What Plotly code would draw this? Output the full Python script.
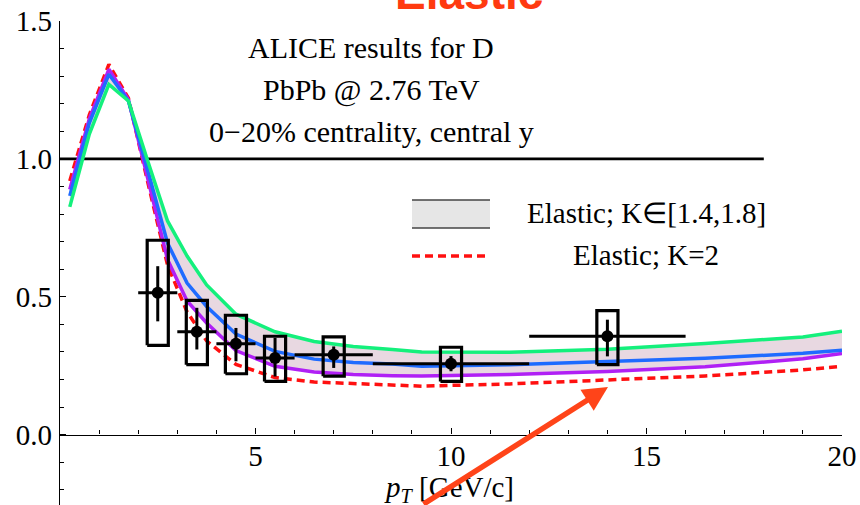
import plotly.graph_objects as go

# ---- model curves: D-meson R_AA vs pT (elastic energy loss, several K factors)
pt_grid = [0.25, 0.75, 1.25, 1.75, 2.25, 2.75, 3.25, 3.75, 4.5, 5.5, 6.5, 7.5,
           8.5, 9.25, 11.5, 14, 16.5, 19, 20]
raa_k14 = [0.826, 1.09, 1.27, 1.21, 0.99, 0.775, 0.648, 0.543, 0.437, 0.373,
           0.338, 0.320, 0.309, 0.300, 0.299, 0.310, 0.331, 0.354, 0.375]
raa_k16 = [0.866, 1.13, 1.307, 1.21, 0.955, 0.695, 0.550, 0.465, 0.365, 0.302,
           0.274, 0.262, 0.256, 0.248, 0.254, 0.265, 0.277, 0.295, 0.306]
raa_k18 = [0.889, 1.145, 1.325, 1.215, 0.925, 0.635, 0.485, 0.405, 0.305, 0.248,
           0.227, 0.218, 0.214, 0.213, 0.218, 0.229, 0.246, 0.275, 0.294]
raa_k20 = [0.920, 1.16, 1.343, 1.22, 0.912, 0.615, 0.445, 0.340, 0.255, 0.207,
           0.191, 0.185, 0.179, 0.176, 0.184, 0.199, 0.213, 0.235, 0.248]

# ---- ALICE D-meson R_AA, PbPb 2.76 TeV, 0-20 %
alice_pt = [2.5, 3.5, 4.5, 5.5, 7.0, 10.0, 14.0]
alice_bin_half = [0.5, 0.5, 0.5, 0.5, 1.0, 2.0, 2.0]
alice_raa = [0.515, 0.373, 0.330, 0.278, 0.290, 0.257, 0.357]
alice_stat_up = [0.096, 0.087, 0.057, 0.073, 0.030, 0.028, 0.060]
alice_stat_dn = [0.104, 0.064, 0.064, 0.067, 0.048, 0.027, 0.073]
alice_syst_hi = [0.705, 0.487, 0.433, 0.357, 0.355, 0.317, 0.450]
alice_syst_lo = [0.324, 0.254, 0.221, 0.193, 0.212, 0.193, 0.254]

ref_x = [0, 18]
ref_y = [1.0, 1.0]

xtick_vals = [5, 10, 15, 20]
ytick_vals = [0.0, 0.5, 1.0, 1.5]
ytick_text = ["0.0", "0.5", "1.0", "1.5"]

SERIF = "Liberation Serif, Times New Roman, serif"
FS = 29
BOX_HALF = 0.27
LW = 3.5

# plot-area geometry (pixels) used to place paper-referenced decorations
W, H = 860, 505
ML, MR, MT, MB = 60, 18, 21, 0
PW, PH = W - ML - MR, H - MT - MB


def px(xp):
    return (xp - ML) / PW


def py(yp):
    return (H - MB - yp) / PH


fig = go.Figure()

# band between the K=1.4 and K=1.8 curves
fig.add_trace(go.Scatter(x=pt_grid, y=raa_k14, mode="lines",
                         line=dict(width=0, color="rgba(0,0,0,0)"),
                         hoverinfo="skip", showlegend=False))
fig.add_trace(go.Scatter(x=pt_grid, y=raa_k18, mode="lines", fill="tonexty",
                         fillcolor="#E8D8E1",
                         line=dict(width=0, color="rgba(0,0,0,0)"),
                         hoverinfo="skip", showlegend=False))

# reference line R_AA = 1
fig.add_trace(go.Scatter(x=ref_x, y=ref_y, mode="lines",
                         line=dict(color="black", width=2.8), showlegend=False))

fig.add_trace(go.Scatter(x=pt_grid, y=raa_k20, mode="lines",
                         line=dict(color="#FF1010", width=LW, dash="8px,5px"),
                         showlegend=False))
fig.add_trace(go.Scatter(x=pt_grid, y=raa_k18, mode="lines",
                         line=dict(color="#B020F5", width=LW), showlegend=False))
fig.add_trace(go.Scatter(x=pt_grid, y=raa_k16, mode="lines",
                         line=dict(color="#1F6BFF", width=LW), showlegend=False))
fig.add_trace(go.Scatter(x=pt_grid, y=raa_k14, mode="lines",
                         line=dict(color="#14F07C", width=LW), showlegend=False))

# systematic-uncertainty boxes
bx, by = [], []
for p, lo, hi in zip(alice_pt, alice_syst_lo, alice_syst_hi):
    bx += [p - BOX_HALF, p + BOX_HALF, p + BOX_HALF, p - BOX_HALF, p - BOX_HALF, None]
    by += [lo, lo, hi, hi, lo, None]
fig.add_trace(go.Scatter(x=bx, y=by, mode="lines",
                         line=dict(color="black", width=3.2),
                         showlegend=False, connectgaps=False))

# data points with statistical errors and bin widths
fig.add_trace(go.Scatter(
    x=alice_pt, y=alice_raa, mode="markers",
    marker=dict(color="black", size=12),
    error_x=dict(type="data", array=alice_bin_half, color="black",
                 thickness=3, width=0),
    error_y=dict(type="data", array=alice_stat_up, arrayminus=alice_stat_dn,
                 symmetric=False, color="black", thickness=3, width=0),
    showlegend=False))

ann = []
# labels in the upper part of the frame
for txt, yc in [("ALICE results for D", 47), ("PbPb @ 2.76 TeV", 90),
                ("0\u221220% centrality, central y", 131.5)]:
    ann.append(dict(text=txt, xref="paper", yref="paper", x=px(371), y=py(yc),
                    xanchor="center", yanchor="middle", showarrow=False,
                    font=dict(family=SERIF, size=30, color="black")))

# hand-made legend
ann.append(dict(text="Elastic; K\u2208[1.4,1.8]", xref="paper", yref="paper",
                x=px(646), y=py(213), xanchor="center", yanchor="middle",
                showarrow=False, font=dict(family=SERIF, size=FS, color="black")))
ann.append(dict(text="Elastic; K=2", xref="paper", yref="paper",
                x=px(646), y=py(255), xanchor="center", yanchor="middle",
                showarrow=False, font=dict(family=SERIF, size=FS, color="black")))

# x-axis title
ann.append(dict(text="<i>p</i><sub><i>T</i></sub> [GeV/c]", xref="paper", yref="paper",
                x=px(449), y=py(489), xanchor="center", yanchor="middle",
                showarrow=False, font=dict(family=SERIF, size=FS, color="black")))

# heading
ann.append(dict(text="<b>Elastic</b>", xref="paper", yref="paper",
                x=px(469), y=1.0, xanchor="center", yanchor="bottom",
                showarrow=False,
                font=dict(family="Liberation Sans, Arial, sans-serif", size=46,
                          color="#FF3A10")))

# pointer arrow
ann.append(dict(text="", xref="paper", yref="paper", x=px(608), y=py(387),
                ax=-186, ay=118, showarrow=True, arrowhead=2, arrowsize=0.9,
                arrowwidth=5.5, arrowcolor="#FF4419"))

shapes = [
    dict(type="rect", xref="paper", yref="paper", x0=px(412), x1=px(490),
         y0=py(228), y1=py(200), fillcolor="#E6E6E6", line=dict(width=0),
         layer="above"),
    dict(type="line", xref="paper", yref="paper", x0=px(412), x1=px(490),
         y0=py(200), y1=py(200), line=dict(color="#444", width=1.6)),
    dict(type="line", xref="paper", yref="paper", x0=px(412), x1=px(490),
         y0=py(228), y1=py(228), line=dict(color="#444", width=1.6)),
    dict(type="line", xref="paper", yref="paper", x0=px(412), x1=px(487),
         y0=py(256), y1=py(256),
         line=dict(color="#FF1010", width=LW, dash="8px,5px")),
]

y_lo, y_hi = -0.255, 1.5001
fig.update_layout(
    width=W, height=H,
    margin=dict(l=ML, r=MR, t=MT, b=MB, pad=0),
    paper_bgcolor="white", plot_bgcolor="white",
    annotations=ann, shapes=shapes,
    xaxis=dict(range=[0, 20], anchor="free",
               position=(0 - y_lo) / (y_hi - y_lo),
               showgrid=False, zeroline=False, showline=True,
               linecolor="black", linewidth=1.4,
               tickmode="array", tickvals=xtick_vals,
               ticks="inside", ticklen=6, tickwidth=1.2, tickcolor="black",
               minor=dict(tickmode="linear", tick0=0, dtick=1, ticks="inside",
                          ticklen=4, tickwidth=1, tickcolor="black"),
               tickfont=dict(family=SERIF, size=FS, color="black"),
               ticklabelstandoff=-5, automargin=False),
    yaxis=dict(range=[y_lo, y_hi], showgrid=False, zeroline=False,
               showline=True, linecolor="black", linewidth=1.4,
               tickmode="array", tickvals=ytick_vals, ticktext=ytick_text,
               ticks="inside", ticklen=6, tickwidth=1.2, tickcolor="black",
               minor=dict(tickmode="linear", tick0=0, dtick=0.1, ticks="inside",
                          ticklen=4, tickwidth=1, tickcolor="black"),
               tickfont=dict(family=SERIF, size=FS, color="black"),
               ticklabelstandoff=1, automargin=False),
)

fig.write_html("out.html")
